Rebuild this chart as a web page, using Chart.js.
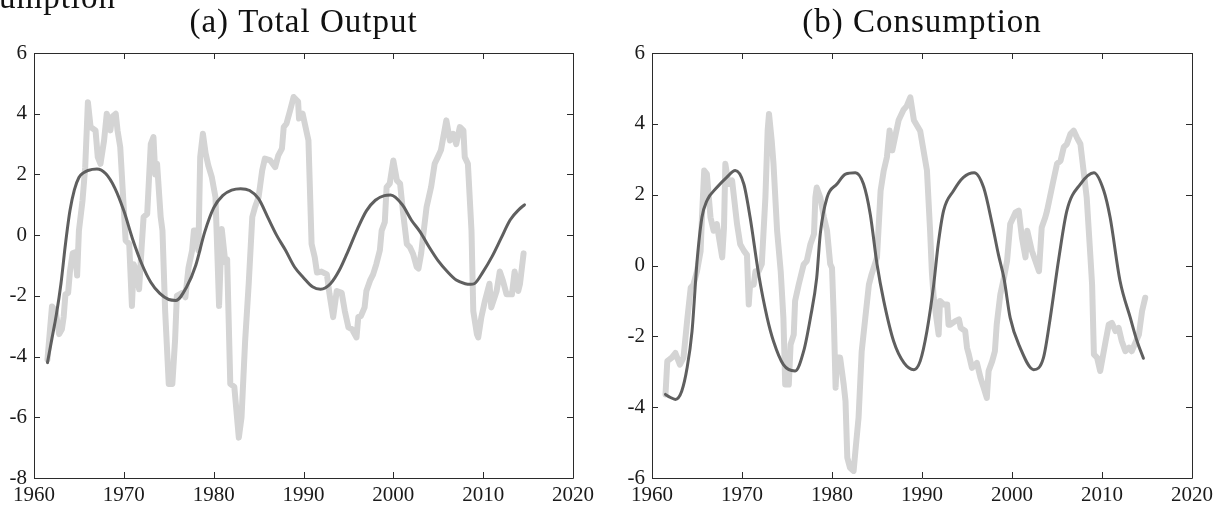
<!DOCTYPE html>
<html>
<head>
<meta charset="utf-8">
<script src="https://cdn.jsdelivr.net/npm/chart.js@4/dist/chart.umd.min.js"></script>
<style>
  body { margin: 0; background: #fff; }
  #wrap { position: relative; width: 1214px; height: 508px; overflow: hidden; }
  canvas { position: absolute; top: 0; }
</style>
</head>
<body>
<div id="wrap">
  <canvas id="output-chart" width="607" height="508" style="left:0"></canvas>
  <canvas id="consumption-chart" width="607" height="508" style="left:607px"></canvas>
</div>
<script>
// x axis ticks (years) and y axis ticks per panel
const yearTicks = [1960, 1970, 1980, 1990, 2000, 2010, 2020];
const outputTicks = [-8, -6, -4, -2, 0, 2, 4, 6];
const consTicks = [-6, -4, -2, 0, 2, 4, 6];

// (a) total output - light grey series (data)
const outDataYears = [1961.5, 1962.0, 1962.4, 1962.8, 1963.1, 1963.3, 1963.5, 1963.8, 1964.0, 1964.3, 1964.6, 1964.8,
  1965.0, 1965.4, 1965.7, 1966.0, 1966.3, 1966.85, 1967.1, 1967.4, 1967.8, 1968.1, 1968.5, 1968.7, 1969.1, 1969.3,
  1969.6, 1970.2, 1970.6, 1970.9, 1971.1, 1971.4, 1971.7, 1972.0, 1972.2, 1972.6, 1973.0, 1973.3, 1973.5, 1973.7,
  1974.1, 1974.3, 1974.6, 1975.0, 1975.4, 1975.7, 1975.9, 1976.5, 1976.85, 1977.2, 1977.6, 1977.8, 1978.1, 1978.3,
  1978.5, 1978.8, 1979.1, 1979.4, 1979.8, 1980.2, 1980.4, 1980.6, 1980.9, 1981.3, 1981.5, 1981.85, 1982.3, 1982.8,
  1983.1, 1983.5, 1983.9, 1984.1, 1984.3, 1984.6, 1985.0, 1985.4, 1985.7, 1986.3, 1986.85, 1987.2, 1987.6, 1987.8,
  1988.1, 1988.5, 1988.9, 1989.4, 1989.5, 1989.9, 1990.55, 1990.9, 1991.25, 1991.5, 1992.0, 1992.6, 1992.9, 1993.3,
  1993.7, 1994.25, 1994.6, 1995.0, 1995.4, 1995.9, 1996.1, 1996.4, 1996.8, 1997.0, 1997.4, 1997.75, 1998.1, 1998.5,
  1998.7, 1999.05, 1999.25, 1999.6, 2000.0, 2000.4, 2000.75, 2001.1, 2001.5, 2001.85, 2002.2, 2002.6, 2002.8, 2003.1,
  2003.3, 2003.7, 2004.2, 2004.6, 2004.95, 2005.3, 2005.7, 2005.9, 2006.3, 2006.65, 2007.0, 2007.4, 2007.8, 2007.95,
  2008.3, 2008.7, 2008.9, 2009.3, 2009.45, 2009.8, 2010.2, 2010.7, 2010.9, 2011.5, 2011.85, 2012.2, 2012.6, 2013.2,
  2013.5, 2013.9, 2014.1, 2014.5];
const outData = [-4.1, -2.35, -2.5, -3.26, -3.1, -2.7, -1.95, -1.9, -1.2, -0.6, -0.56, -1.33,
  0.15, 1.14, 2.24, 4.38, 3.56, 3.45, 2.57, 2.35, 3.12, 4.0, 3.45, 3.9, 4.0, 3.45,
  2.9, -0.18, -0.29, -2.33, -0.96, -1.2, -1.78, -0.3, 0.6, 0.7, 3.0, 3.23, 2.0, 2.35,
  0.6, 0.15, -2.5, -4.9, -4.9, -3.48, -2.0, -1.9, -2.05, -1.07, -0.5, 0.15, 0.15, -0.5,
  2.57, 3.34, 2.7, 2.3, 1.9, 1.25, -0.5, -2.33, 0.2, -0.9, -0.8, -4.9, -5.0, -6.67,
  -6.0, -3.5, -1.6, -0.5, 0.6, 0.92, 1.25, 2.13, 2.52, 2.46, 2.24, 2.63, 2.85, 3.56,
  3.67, 4.1, 4.55, 4.4, 3.84, 4.0, 3.12, -0.29, -0.73, -1.23, -1.2, -1.29, -1.95, -2.7,
  -1.84, -1.9, -2.5, -3.04, -3.1, -3.37, -2.7, -2.66, -2.38, -1.84, -1.5, -1.29, -0.96, -0.5,
  0.15, 0.43, 1.58, 1.7, 2.46, 1.8, 1.7, 0.7, -0.29, -0.4, -0.62, -1.05, -1.1, -0.6,
  -0.07, 0.92, 1.58, 2.35, 2.57, 2.8, 3.45, 3.78, 3.12, 3.34, 3.0, 3.56, 3.45, 2.57,
  2.35, 0.15, -2.5, -3.26, -3.37, -2.7, -2.16, -1.6, -2.38, -1.84, -1.2, -1.5, -1.95, -1.95,
  -1.2, -1.84, -1.6, -0.6];

// (a) total output - dark grey smooth series (model)
const outModelYears = [1961.5, 1962.0, 1962.5, 1963.0, 1963.5, 1964.0, 1964.5, 1965.0, 1965.5, 1966.0, 1967.0, 1968.0,
  1969.0, 1970.0, 1971.0, 1972.0, 1973.0, 1974.0, 1975.0, 1975.8, 1977.0, 1978.0, 1979.0, 1980.0, 1981.0, 1982.0,
  1983.0, 1984.0, 1985.0, 1986.0, 1987.0, 1988.0, 1989.0, 1990.0, 1991.0, 1991.9, 1993.0, 1994.0, 1995.0, 1996.0,
  1997.0, 1998.0, 1999.0, 1999.7, 2001.0, 2002.0, 2003.0, 2004.0, 2005.0, 2006.0, 2007.0, 2008.0, 2008.6, 2009.0,
  2010.0, 2011.0, 2012.0, 2013.0, 2014.0, 2014.6];
const outModel = [-4.2, -3.4, -2.6, -1.6, -0.3, 0.8, 1.5, 1.9, 2.05, 2.13, 2.18, 2.02,
  1.55, 0.8, -0.15, -0.95, -1.55, -1.92, -2.12, -2.15, -1.7, -1.0, 0.1, 0.9, 1.3, 1.48,
  1.53, 1.47, 1.2, 0.6, 0.0, -0.5, -1.05, -1.4, -1.7, -1.78, -1.6, -1.15, -0.5, 0.2,
  0.8, 1.15, 1.3, 1.32, 1.0, 0.5, 0.1, -0.4, -0.85, -1.2, -1.48, -1.6, -1.62, -1.6,
  -1.2, -0.7, -0.1, 0.5, 0.85, 1.0];

// (b) consumption - light grey series (data)
const consDataYears = [1961.5, 1961.7, 1962.2, 1962.6, 1963.1, 1963.5, 1963.9, 1964.3, 1964.6, 1965.0, 1965.4, 1965.55,
  1965.8, 1966.1, 1966.5, 1966.85, 1967.2, 1967.8, 1968.0, 1968.15, 1968.5, 1968.9, 1969.45, 1969.8, 1970.2, 1970.55,
  1970.75, 1970.9, 1971.3, 1971.5, 1971.7, 1972.2, 1972.6, 1972.85, 1973.0, 1973.3, 1973.5, 1973.9, 1974.3, 1974.6,
  1974.8, 1975.2, 1975.4, 1975.75, 1975.9, 1976.3, 1976.85, 1977.2, 1977.6, 1978.0, 1978.15, 1978.3, 1978.7, 1979.1,
  1979.45, 1979.8, 1980.0, 1980.2, 1980.4, 1980.55, 1980.9, 1981.3, 1981.5, 1981.7, 1982.0, 1982.4, 1982.6, 1982.95,
  1983.3, 1983.7, 1984.1, 1984.4, 1985.0, 1985.4, 1985.75, 1986.1, 1986.4, 1986.7, 1987.0, 1987.4, 1987.95, 1988.3,
  1988.7, 1989.1, 1989.8, 1990.55, 1990.9, 1991.1, 1991.3, 1991.85, 1992.0, 1992.4, 1992.8, 1992.95, 1993.15, 1993.7,
  1994.1, 1994.3, 1994.8, 1995.0, 1995.2, 1995.55, 1996.1, 1996.5, 1996.85, 1997.2, 1997.4, 1997.8, 1998.1, 1998.3,
  1998.7, 1999.1, 1999.45, 1999.8, 2000.4, 2000.75, 2001.1, 2001.5, 2001.7, 2002.2, 2003.0, 2003.3, 2003.7, 2003.9,
  2004.6, 2005.0, 2005.4, 2005.75, 2006.1, 2006.5, 2006.85, 2007.2, 2007.6, 2007.95, 2008.3, 2008.7, 2008.9, 2009.1,
  2009.45, 2009.8, 2010.4, 2010.75, 2011.1, 2011.5, 2011.85, 2012.2, 2012.6, 2013.0, 2013.3, 2014.1, 2014.45, 2014.8];
const consData = [-3.64, -2.7, -2.6, -2.47, -2.8, -2.6, -1.57, -0.63, -0.54, -0.16, 0.4, 1.36,
  2.68, 2.58, 1.36, 0.98, 1.17, 0.23, 1.07, 2.87, 2.3, 2.4, 1.17, 0.6, 0.42, 0.3,
  -1.1, -0.54, -0.54, -0.16, -0.25, 0.04, 1.92, 3.81, 4.28, 3.53, 2.87, 0.98, -0.16, -1.48,
  -3.36, -3.36, -2.23, -1.95, -1.0, -0.54, 0.03, 0.13, 0.6, 0.89, 1.92, 2.2, 1.92, 1.36,
  0.98, 0.04, -0.07, -1.48, -3.45, -2.6, -2.6, -3.36, -3.83, -5.43, -5.71, -5.8, -5.24, -4.3,
  -2.42, -1.48, -0.54, -0.25, 0.23, 2.11, 2.68, 3.06, 3.81, 3.25, 3.62, 4.1, 4.4, 4.5,
  4.75, 4.1, 3.8, 2.68, 0.98, -0.2, -0.91, -1.95, -1.0, -1.1, -1.1, -1.67, -1.67, -1.57,
  -1.52, -1.76, -1.85, -2.32, -2.51, -2.89, -2.75, -3.17, -3.45, -3.74, -2.98, -2.7, -2.42, -1.67,
  -0.82, -0.35, 0.13, 1.17, 1.5, 1.55, 0.79, 0.23, 0.98, 0.42, -0.16, 1.07, 1.36, 1.55,
  2.4, 2.87, 2.96, 3.34, 3.43, 3.72, 3.81, 3.62, 3.43, 2.68, 1.92, 0.3, -0.54, -2.51,
  -2.6, -2.98, -2.14, -1.67, -1.62, -1.85, -1.76, -2.14, -2.42, -2.32, -2.42, -1.95, -1.29, -0.91];

// (b) consumption - dark grey smooth series (model)
const consModelYears = [1961.5, 1962.0, 1962.6, 1963.3, 1963.9, 1964.45, 1965.0, 1965.55, 1966.1, 1967.2, 1968.3, 1969.25,
  1970.2, 1970.9, 1971.85, 1972.8, 1973.5, 1974.6, 1975.9, 1976.85, 1977.6, 1978.3, 1978.7, 1979.45, 1980.55, 1981.5,
  1982.6, 1983.5, 1984.25, 1985.0, 1985.75, 1986.85, 1988.0, 1989.1, 1989.8, 1990.55, 1991.3, 1991.8, 1992.4, 1993.5,
  1994.6, 1995.8, 1996.85, 1997.8, 1998.5, 1999.1, 1999.8, 2000.9, 2002.4, 2003.5, 2004.25, 2005.2, 2006.1, 2007.6,
  2009.1, 2010.2, 2010.9, 2012.0, 2013.15, 2013.9, 2014.6];
const consModel = [-3.64, -3.72, -3.78, -3.55, -2.89, -1.85, 0.1, 1.36, 1.83, 2.2, 2.49, 2.68,
  2.3, 1.36, -0.25, -1.48, -2.14, -2.8, -2.98, -2.42, -1.48, -0.35, 0.9, 1.92, 2.3, 2.58,
  2.62, 2.3, 1.45, 0.04, -1.0, -2.14, -2.75, -2.94, -2.7, -1.85, -0.54, 0.6, 1.55, 2.11,
  2.49, 2.62, 2.2, 1.17, 0.3, -0.35, -1.48, -2.32, -2.94, -2.6, -1.48, 0.2, 1.55, 2.3,
  2.62, 2.11, 1.36, -0.43, -1.48, -2.14, -2.62];

const titleA = '(a) Total Output';
const titleB = '(b) Consumption';

const serif = '"Liberation Serif", "DejaVu Serif", serif';
Chart.defaults.font.family = serif;
Chart.defaults.color = '#1a1a1a';

function points(xs, ys) {
  return xs.map((x, i) => ({ x: x, y: ys[i] }));
}

// box round the plot with inward ticks on all four sides, and the panel title
const framePlugin = {
  id: 'frame',
  afterDraw(chart, args, opts) {
    const ctx = chart.ctx;
    const a = chart.chartArea;
    const xs = chart.scales.x, ys = chart.scales.y;
    const tl = 6;
    ctx.save();
    ctx.strokeStyle = '#2b2b2b';
    ctx.lineWidth = 1;
    ctx.beginPath();
    ctx.rect(Math.round(a.left) + 0.5, Math.round(a.top) + 0.5, Math.round(a.right - a.left), Math.round(a.bottom - a.top));
    xs.ticks.forEach(t => {
      const px = Math.round(xs.getPixelForValue(t.value)) + 0.5;
      ctx.moveTo(px, a.bottom); ctx.lineTo(px, a.bottom - tl);
      ctx.moveTo(px, a.top); ctx.lineTo(px, a.top + tl);
    });
    ys.ticks.forEach(t => {
      const py = Math.round(ys.getPixelForValue(t.value)) + 0.5;
      ctx.moveTo(a.left, py); ctx.lineTo(a.left + tl, py);
      ctx.moveTo(a.right, py); ctx.lineTo(a.right - tl, py);
    });
    ctx.stroke();

    ctx.fillStyle = '#111';
    ctx.font = '33px ' + serif;
    ctx.letterSpacing = '1px';
    ctx.textAlign = 'center';
    ctx.textBaseline = 'alphabetic';
    ctx.fillText(opts.title, (a.left + a.right) / 2, 32);
    if (opts.spill) {
      // bottom of a title from the figure above, cut off at the top edge
      ctx.textAlign = 'left';
      const skip = ctx.measureText(opts.spill.slice(0, 4)).width;
      ctx.fillText(opts.spill, -skip - 1, 8);
    }
    ctx.restore();
  }
};

function makePanel(canvas, dataYears, dataVals, modelYears, modelVals, yMin, yMax, yTicks, leftW, rightPad, title, spill) {
  return new Chart(canvas.getContext('2d'), {
    type: 'line',
    data: {
      datasets: [
        {
          data: points(modelYears, modelVals),
          borderColor: '#5f5f5f',
          borderWidth: 3,
          pointRadius: 0,
          cubicInterpolationMode: 'monotone',
          borderCapStyle: 'round',
          borderJoinStyle: 'round',
          order: 0
        },
        {
          data: points(dataYears, dataVals),
          borderColor: '#d4d4d4',
          borderWidth: 6,
          pointRadius: 0,
          tension: 0,
          borderCapStyle: 'round',
          borderJoinStyle: 'round',
          order: 1
        }
      ]
    },
    options: {
      responsive: false,
      animation: false,
      events: [],
      layout: { padding: { top: 53, right: rightPad, left: 0, bottom: 0 } },
      plugins: {
        legend: { display: false },
        tooltip: { enabled: false },
        title: { display: false },
        frame: { title: title, spill: spill }
      },
      scales: {
        x: {
          type: 'linear',
          min: yearTicks[0],
          max: yearTicks[yearTicks.length - 1],
          afterBuildTicks: s => { s.ticks = yearTicks.map(v => ({ value: v })); },
          afterFit: s => { s.height = 30; s.paddingLeft = 0; s.paddingRight = 0; },
          grid: { display: false, drawTicks: false },
          border: { display: false },
          ticks: {
            padding: 5,
            maxRotation: 0,
            font: { size: 21 },
            callback: v => String(v)
          }
        },
        y: {
          min: yMin,
          max: yMax,
          afterBuildTicks: s => { s.ticks = yTicks.map(v => ({ value: v })); },
          afterFit: s => { s.width = leftW; s.paddingTop = 0; s.paddingBottom = 0; },
          grid: { display: false, drawTicks: false },
          border: { display: false },
          ticks: {
            padding: 7,
            font: { size: 21 },
            callback: v => String(v)
          }
        }
      }
    },
    plugins: [framePlugin]
  });
}

makePanel(document.querySelector('#output-chart'), outDataYears, outData, outModelYears, outModel,
  -8, 6, outputTicks, 34, 34, titleA, 'Consumption');
makePanel(document.querySelector('#consumption-chart'), consDataYears, consData, consModelYears, consModel,
  -6, 6, consTicks, 45, 22, titleB, null);
</script>
</body>
</html>
